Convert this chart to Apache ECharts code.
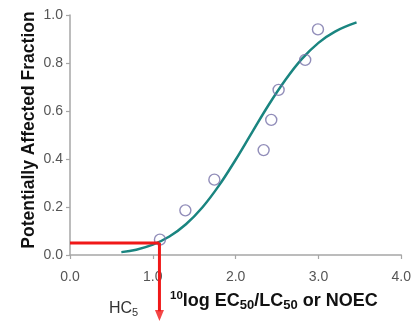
<!DOCTYPE html>
<html>
<head>
<meta charset="utf-8">
<script src="https://cdn.jsdelivr.net/npm/echarts@6/dist/echarts.min.js"></script>
<style>
html,body{margin:0;padding:0;background:#fff;}
#chart{width:414px;height:325px;}
</style>
</head>
<body>
<div id="chart"></div>
<script>
// Observed data (log10 toxicity values vs. rank fraction)
var obsX = [1.086, 1.393, 1.743, 2.338, 2.43, 2.519, 2.84, 2.994];
var obsY = [0.064, 0.186, 0.314, 0.437, 0.563, 0.688, 0.813, 0.94];

// Fitted SSD curve
var curveX = [0.62, 0.8, 1.0, 1.2, 1.4, 1.6, 1.8, 2.0, 2.2, 2.4, 2.6, 2.8, 3.0, 3.2, 3.46];
var curveY = [0.012, 0.022, 0.043, 0.077, 0.128, 0.199, 0.290, 0.397, 0.512, 0.626, 0.729, 0.817, 0.884, 0.931, 0.969];

// HC5 point
var hc5X = 1.08;
var hc5Y = 0.05;

// Tick labels
var xTickLabels = ['0.0', '1.0', '2.0', '3.0', '4.0'];
var yTickLabels = ['0.0', '0.2', '0.4', '0.6', '0.8', '1.0'];

var FONT = 'Liberation Sans, Arial, sans-serif';
var arrowBase = -0.235;
var arrowHead = -0.252;

function zip(a, b) { return a.map(function (v, i) { return [v, b[i]]; }); }

var chart = echarts.init(document.getElementById('chart'), null, {renderer: 'canvas'});
chart.setOption({
  animation: false,
  backgroundColor: '#ffffff',
  grid: {left: 70, right: 12, top: 15, bottom: 70, containLabel: false},
  xAxis: {
    type: 'value', min: 0, max: 4, interval: 1,
    axisLine: {show: true, lineStyle: {color: '#a6a6a6', width: 1.5}},
    axisTick: {show: true, inside: false, length: 4, lineStyle: {color: '#a6a6a6', width: 1.2}},
    splitLine: {show: false},
    axisLabel: {
      margin: 15, fontSize: 14, color: '#555555', fontFamily: FONT,
      formatter: function (v) { return xTickLabels[Math.round(v)]; }
    }
  },
  yAxis: {
    type: 'value', min: 0, max: 1, interval: 0.2,
    axisLine: {show: true, lineStyle: {color: '#a6a6a6', width: 1.5}},
    axisTick: {show: true, inside: false, length: 4, lineStyle: {color: '#a6a6a6', width: 1.2}},
    splitLine: {show: false},
    axisLabel: {
      margin: 7, fontSize: 14, color: '#555555', fontFamily: FONT,
      formatter: function (v) { return yTickLabels[Math.round(v * 5)]; }
    }
  },
  series: [
    {
      type: 'line', data: zip(curveX, curveY), smooth: 0.4, symbol: 'none',
      lineStyle: {color: '#1a8580', width: 2.5}, z: 2
    },
    {
      type: 'scatter', data: zip(obsX, obsY), symbol: 'circle', symbolSize: 11,
      itemStyle: {color: 'rgba(255,255,255,0)', borderColor: '#7571a8', borderWidth: 1.4}, z: 3
    },
    {
      type: 'line', data: [[0, hc5Y], [hc5X, hc5Y]], symbol: 'none', clip: false,
      lineStyle: {color: '#f01818', width: 3}, z: 4
    },
    {
      type: 'line', data: [[hc5X, hc5Y], [hc5X, arrowBase]], symbol: 'none', clip: false,
      lineStyle: {color: '#f01818', width: 3}, z: 4
    },
    {
      type: 'scatter', data: [[hc5X, arrowHead]], symbol: 'triangle', symbolRotate: 180,
      symbolSize: [9, 11], clip: false, itemStyle: {color: '#f01818'}, z: 4
    }
  ],
  graphic: [
    {
      type: 'text', x: 29, y: 130, rotation: Math.PI / 2,
      style: {
        text: 'Potentially Affected Fraction', align: 'center', verticalAlign: 'middle',
        font: 'bold 17.5px ' + FONT, fill: '#111111'
      }
    },
    {
      type: 'text', x: 170, y: 301,
      style: {
        text: '{sup|10}{b|log EC}{sub|50}{b|/LC}{sub|50}{b| or NOEC}',
        align: 'left', verticalAlign: 'middle',
        rich: {
          sup: {fontSize: 11.5, fontWeight: 'bold', fontFamily: FONT, lineHeight: 11, verticalAlign: 'top', fill: '#111111'},
          b: {fontSize: 18, fontWeight: 'bold', fontFamily: FONT, lineHeight: 22, verticalAlign: 'middle', fill: '#111111'},
          sub: {fontSize: 13, fontWeight: 'bold', fontFamily: FONT, lineHeight: 14, verticalAlign: 'bottom', fill: '#111111'}
        }
      }
    },
    {
      type: 'text', x: 109, y: 309,
      style: {
        text: '{a|HC}{s|5}', align: 'left', verticalAlign: 'middle',
        rich: {
          a: {fontSize: 16, fontFamily: FONT, lineHeight: 18, verticalAlign: 'middle', fill: '#333333'},
          s: {fontSize: 11, fontFamily: FONT, lineHeight: 12, verticalAlign: 'bottom', fill: '#333333'}
        }
      }
    }
  ]
});
</script>
</body>
</html>
